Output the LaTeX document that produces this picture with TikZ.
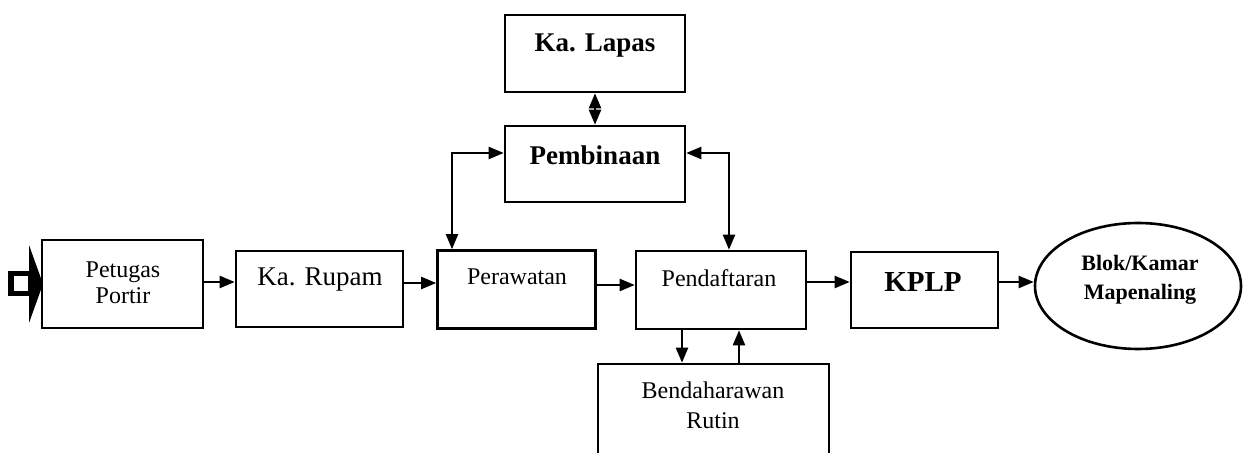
\documentclass[tikz,border=0pt]{standalone}
\usepackage{fontspec}
\setmainfont{Liberation Serif}
\usetikzlibrary{arrows.meta,shapes.geometric}

\tikzset{
  box/.style={draw, line width=1.3pt, rectangle, inner sep=0pt},
  oval/.style={draw, line width=1.3pt, ellipse, inner sep=0pt},
  lbl/.style={align=center, inner sep=0pt, font=\fontsize{12}{12}\selectfont},
  blbl/.style={align=center, inner sep=0pt, font=\fontsize{13.5}{13.5}\selectfont\bfseries},
  tip/.tip={Triangle[length=7.5pt,width=6pt]},
  flow/.style={line width=1.1pt, -tip},
  both/.style={line width=1.1pt, tip-tip}
}

\begin{document}
\begin{tikzpicture}[x=0.5pt, y=-0.5pt]
\useasboundingbox (0,0) rectangle (1243,453);
\clip (0,0) rectangle (1243,453);

% boxes (centre, size in px)
\node[box, minimum width=80.5pt, minimum height=44pt] (portir) at (122.5,284) {};
\node[box, minimum width=83.5pt, minimum height=38pt] (rupam) at (319.5,289) {};
\node[box, minimum width=79pt, minimum height=39pt] (rawat) at (516.5,289.5) {};
\node[box, minimum width=85pt, minimum height=39pt] (daftar) at (721,290) {};
\node[box, minimum width=73.5pt, minimum height=38pt] (kplp) at (924.5,290) {};
\node[oval, minimum width=103pt, minimum height=63pt] (blok) at (1138,286) {};
\node[box, minimum width=90pt, minimum height=38.5pt] (lapas) at (595,53.5) {};
\node[box, minimum width=90pt, minimum height=38pt] (bina) at (595,164) {};
\node[box, minimum width=115.5pt, minimum height=60pt] (benda) at (713.5,424) {};

% texts
\node[lbl] (tportir) at (123,283) {Petugas\\[1pt]Portir};
\node[lbl, font=\fontsize{13.5}{13.5}\selectfont] (trupam) at (320,280) {Ka. Rupam};
\node[lbl] (trawat) at (517,277) {Perawatan};
\node[lbl] (tdaftar) at (719,278) {Pendaftaran};
\node[blbl, font=\fontsize{14.5}{14.5}\selectfont\bfseries] (tkplp) at (923,282) {KPLP};
\node[lbl, font=\fontsize{11}{14.5}\selectfont\bfseries] (tblok) at (1140,280) {Blok/Kamar\\Mapenaling};
\node[blbl] (tlapas) at (595,46) {Ka. Lapas};
\node[blbl] (tbina) at (595,155) {Pembinaan};
\node[lbl] (tbenda) at (713,405) {Bendaharawan\\[3pt]Rutin};

% entry arrow
\coordinate (inTip) at (portir.west);
\draw[line width=2.8pt] (11,273.5) rectangle (31,293.5);
\fill (29,245) -- (43,284) -- (29,323) -- cycle;

% main flow
\draw[flow] (portir.east |- 0,282) -- (rupam.west |- 0,282);
\draw[flow] (rupam.east |- 0,283) -- (rawat.west |- 0,283);
\draw[flow] (rawat.east |- 0,285) -- (daftar.west |- 0,285);
\draw[flow] (daftar.east |- 0,282) -- (kplp.west |- 0,282);
\draw[flow] (kplp.east |- 0,282) -- (blok.west |- 0,282);

% management links
\draw[both] (lapas.south) -- (bina.north);
\draw[both] (bina.west |- 0,153) -| (rawat.north -| 452,0);
\draw[both] (bina.east |- 0,153) -| (daftar.north -| 729,0);

% treasurer links
\draw[flow] (daftar.south -| 682,0) -- (benda.north -| 682,0);
\draw[flow] (benda.north -| 739,0) -- (daftar.south -| 739,0);
\end{tikzpicture}
\end{document}
